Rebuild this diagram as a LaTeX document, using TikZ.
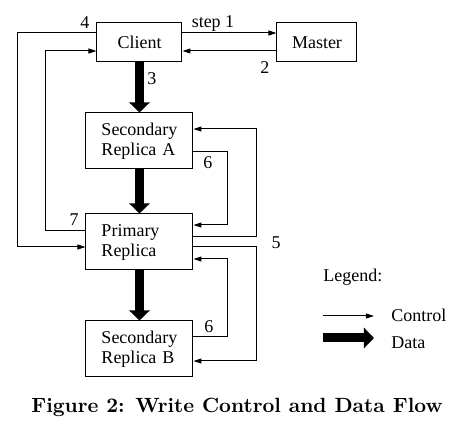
\documentclass[tikz,border=0pt]{standalone}
\usepackage{fontspec}
\newfontfamily\diagfont{Liberation Serif}
\usepackage{tikz}
\usetikzlibrary{positioning,arrows.meta,calc}
\tikzset{
  box/.style={draw=black,line width=0.5pt,inner sep=1pt,align=left,font=\diagfont\fontsize{9}{10}\selectfont},
  smallbox/.style={box,minimum width=42.5pt,minimum height=19.5pt},
  replica/.style={box,text width=38pt,inner xsep=7.75pt,minimum height=28pt},
  lbl/.style={font=\diagfont\fontsize{9}{10}\selectfont,inner sep=0pt},
  ctrl/.style={-{Triangle[length=4pt,width=2.5pt]},line width=0.5pt,draw=black},
  data/.style={-{Triangle[length=5pt,width=10pt]},line width=4.5pt,draw=black}
}

\begin{document}
\begin{tikzpicture}[x=0.5pt,y=0.5pt]
\useasboundingbox (0,0) rectangle (473,445);

% Boxes
\node[smallbox] (client) at (139.5,402.5) {Client};
\node[smallbox,minimum width=40pt] (master) at (317,402.5) {Master};
\node[replica] (seca) at (139.5,304) {Secondary\\Replica A};
\node[replica] (prim) at (139.5,203) {Primary\\Replica};
\node[replica] (secb) at (139.5,96) {Secondary\\Replica B};

% Client <-> Master
\draw[ctrl] ($(client.east)+(0,9.5)$) -- ($(master.west)+(0,9.5)$);
\draw[ctrl] ($(master.west)+(0,-8.5)$) -- ($(client.east)+(0,-8.5)$);
\node[lbl] (l1) at (213,422) {step 1};
\node[lbl] (l2) at (265,377) {2};

% Data flow
\draw[data] (client.south) -- (seca.north);
\draw[data] (seca.south) -- (prim.north);
\draw[data] (prim.south) -- (secb.north);
\node[lbl] (l3) at (152,366) {3};

% Client <-> Primary
\draw[ctrl] ($(client.west)+(0,9.5)$) -- ++(-79,0) |- ($(prim.west)+(0,-5)$);
\draw[ctrl] ($(prim.west)+(0,11)$) -- ++(-40,0) |- ($(client.west)+(0,-8.5)$);
\node[lbl] (l4) at (85,422) {4};
\node[lbl] (l7) at (74,225) {7};

% Primary <-> secondaries
\draw[ctrl] ($(prim.east)+(0,5)$) -- ++(63,0) |- ($(seca.east)+(0,12)$);
\draw[ctrl] ($(seca.east)+(0,-11)$) -- ++(34,0) |- ($(prim.east)+(0,17)$);
\draw[ctrl] ($(prim.east)+(0,-5)$) -- ++(63,0) |- ($(secb.east)+(0,-12)$);
\draw[ctrl] ($(secb.east)+(0,12)$) -- ++(34,0) |- ($(prim.east)+(0,-17)$);
\node[lbl] (l5) at (276,202) {5};
\node[lbl] (l6a) at (208,282) {6};
\node[lbl] (l6b) at (209,118) {6};

% Legend
\node[lbl,anchor=west] (leg) at (323,168) {Legend:};
\coordinate (c0) at (323,129);
\coordinate (c1) at (374,129);
\draw[ctrl] (c0) -- (c1);
\node[lbl,anchor=west] (lctrl) at (391,130) {Control};
\coordinate (d0) at (323,107);
\coordinate (d1) at (374,107);
\draw[data] (d0) -- (d1);
\node[lbl,anchor=west] (ldata) at (391,102) {Data};

% Caption
\node[font=\bfseries\fontsize{10.3}{12}\selectfont,inner sep=0pt] (cap) at (237,38) {Figure 2: Write Control and Data Flow};
\end{tikzpicture}
\end{document}
